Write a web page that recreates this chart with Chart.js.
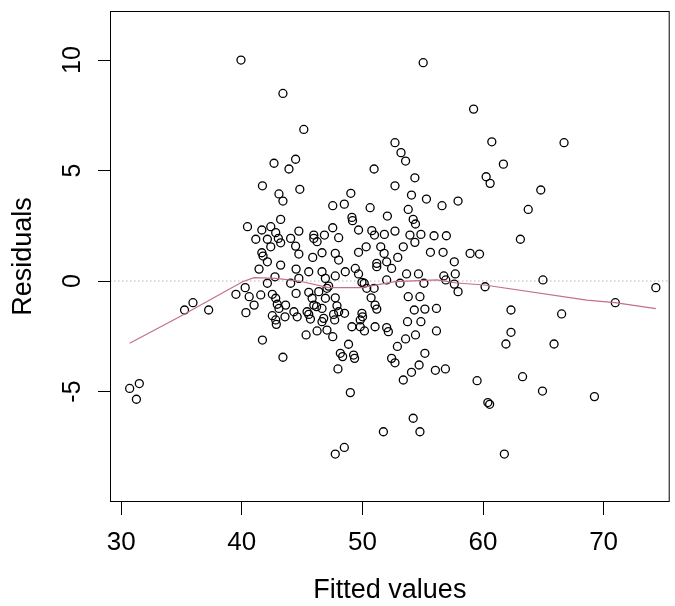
<!DOCTYPE html>
<html>
<head>
<meta charset="utf-8">
<script src="https://cdn.jsdelivr.net/npm/chart.js@4.4.0/dist/chart.umd.min.js"></script>
<style>
  body { margin: 0; background: #fff; }
</style>
</head>
<body>
<canvas id="myChart" width="675" height="606"></canvas>
<script>
// residuals vs fitted
const fittedValues = [
  30.70, 31.50, 31.26, 35.25, 35.95, 37.25, 39.51, 40.28, 40.61, 41.02,
  40.34, 41.57, 41.71, 43.41, 41.43, 42.12, 42.75, 42.53, 42.81, 42.94,
  43.08, 42.53, 42.81, 42.86, 43.58, 44.05, 44.32, 44.59, 44.50, 44.73,
  44.50, 43.22, 45.55, 45.55, 45.83, 45.97, 45.55, 45.69, 45.33, 46.24,
  46.38, 46.65, 46.79, 46.65, 46.93, 47.06, 46.93, 47.06, 45.14, 42.67,
  44.46, 43.91, 41.71, 43.08, 43.41, 44.81, 43.22, 40.47, 41.66, 42.40,
  42.81, 41.16, 42.12, 43.03, 43.22, 44.05, 44.73, 42.40, 44.46, 41.66,
  41.76, 42.12, 44.73, 45.97, 45.97, 46.24, 46.85, 45.88, 46.65, 39.93,
  55.04, 43.41, 52.70, 53.20, 53.58, 50.97, 54.35, 52.70, 49.04, 47.54,
  48.50, 50.64, 54.07, 55.31, 56.60, 52.07, 53.80, 49.13, 49.18, 54.21,
  54.40, 47.54, 48.03, 49.68, 50.78, 51.00, 51.82, 52.70, 53.94, 54.35,
  54.85, 55.94, 56.96, 47.75, 49.68, 50.31, 51.52, 51.80, 53.39, 55.64,
  56.69, 51.19, 52.93, 52.01, 52.42, 48.58, 49.41, 49.68, 53.66, 54.65,
  56.75, 57.70, 47.75, 47.20, 50.15, 50.36, 52.01, 53.12, 55.10, 56.91,
  53.80, 54.77, 57.93, 48.03, 51.19, 57.62, 58.93, 59.22, 60.73, 66.72,
  61.69, 60.26, 60.59, 64.79, 63.75, 59.71, 63.10, 64.97, 57.62, 57.93,
  60.17, 74.33, 70.97, 62.32, 66.52, 62.32, 61.90, 65.89, 56.88, 59.51,
  60.40, 60.55, 63.28, 64.93, 69.24, 61.77, 49.96, 50.97, 50.72, 51.05,
  51.19, 47.75, 47.89, 47.61, 47.70, 48.52, 47.54, 50.01, 49.82, 49.13,
  49.82, 50.17, 51.05, 52.01, 52.15, 48.85, 48.17, 48.36, 49.27, 49.35,
  47.97, 49.00, 54.30, 55.18, 56.14, 53.74, 54.85, 56.14, 54.40, 53.58,
  52.90, 55.18, 52.42, 52.70, 54.70, 54.07, 56.05, 53.39, 54.21, 54.77,
  47.75, 48.50, 51.74, 48.03, 49.96, 43.63, 45.41, 46.20, 46.65
];
const residuals = [
  -4.86, -4.64, -5.35, -1.31, -0.98, -1.31, -0.60, -0.30, -0.71, -1.09,
  -1.43, -0.63, -2.67, -3.45, 0.54, -0.10, 0.19, -0.60, -0.78, -1.05,
  -1.24, -1.57, -1.76, -1.96, -1.62, -0.10, -1.39, -1.62, -0.56, 0.12,
  0.54, 0.72, 0.42, -0.51, -0.78, -1.09, -1.51, -1.72, -2.44, -2.26,
  -0.48, -1.24, -1.69, 0.42, 0.12, -0.33, -0.78, -2.22, 6.86, 5.33,
  5.51, 5.07, 4.31, 3.94, 3.62, 4.15, 2.79, 2.46, 2.31, 2.46,
  2.19, 1.89, 1.89, 1.93, 1.73, 1.93, 2.26, 1.55, 1.58, 1.28,
  1.13, 0.87, 1.22, 2.08, 1.93, 1.78, 2.08, 1.07, 1.28, 10.00,
  9.88, 8.49, 6.26, 5.81, 5.43, 5.07, 4.67, 4.31, 3.97, 3.41,
  3.48, 3.32, 3.89, 3.71, 3.41, 2.94, 3.24, 2.88, 2.73, 2.79,
  2.58, 2.41, 1.96, 2.31, 2.28, 2.08, 2.11, 2.26, 2.08, 1.75,
  2.11, 2.05, 2.05, 1.25, 1.30, 1.55, 1.55, 1.25, 1.55, 1.30,
  1.30, 0.80, 1.07, 0.87, 0.57, 0.42, 0.57, 0.32, 0.32, 0.32,
  0.23, 0.32, 0.23, -0.23, -0.10, -0.33, 0.05, -0.10, -0.10, 0.05,
  -0.71, -0.71, 3.62, 0.95, 0.65, 0.87, 1.25, 7.78, 6.30, 6.26,
  5.29, 4.72, 4.42, 4.12, 3.24, 1.22, 1.89, 0.05, -0.14, -0.48,
  -0.26, -0.30, -0.98, -1.31, -1.49, -2.32, -2.85, -2.85, -3.98, -4.51,
  -5.50, -5.58, -4.33, -4.98, -5.23, -7.83, -0.06, -0.33, -0.76, -1.09,
  -1.27, -0.76, -1.12, -1.51, -1.76, -1.46, -2.52, -1.62, -1.76, -2.07,
  -2.07, -2.26, -2.07, -2.11, -2.29, -2.86, -3.27, -3.42, -3.35, -3.50,
  -3.98, -5.05, -1.31, -1.27, -1.24, -1.84, -1.84, -2.26, -2.44, -2.62,
  -2.96, -3.27, -3.50, -3.70, -3.80, -4.13, -4.04, -4.48, -6.21, -6.82,
  -7.83, -7.53, -6.82, -1.39, -1.46, -1.09, -1.39, -1.16, -1.84
];

// smoother through the residuals
const lowessX = [30.70, 34.84, 40.06, 41.02, 42.81, 44.73, 47.20, 49.93, 52.70, 56.17, 57.82, 60.12, 68.60, 70.95, 74.33];
const lowessY = [-2.82, -1.62, -0.03, 0.15, 0.12, 0.00, -0.30, -0.30, -0.03, 0.05, -0.09, -0.18, -0.86, -0.98, -1.25];

const xTicks = [30, 40, 50, 60, 70];
const yTicks = [-5, 0, 5, 10];
const xMin = 29.07, xMax = 75.48;
const yMin = -10.0, yMax = 12.22;

const FONT = '"Liberation Sans", Arial, sans-serif';

const points = fittedValues.map((x, i) => ({ x: x, y: residuals[i] }));
const smooth = lowessX.map((x, i) => ({ x: x, y: lowessY[i] }));

// box round the plot + R style tick labels (y ones rotated)
const frame = {
  id: 'frame',
  afterDraw(chart) {
    const { ctx, chartArea: a, scales: { x, y } } = chart;
    ctx.save();
    ctx.strokeStyle = '#000';
    ctx.lineWidth = 1;
    ctx.strokeRect(a.left + 0.5, a.top + 0.5, a.right - a.left - 1, a.bottom - a.top - 1);
    ctx.fillStyle = '#000';
    ctx.textAlign = 'center';
    ctx.textBaseline = 'alphabetic';
    ctx.font = '26px ' + FONT;
    xTicks.forEach(v => ctx.fillText(String(v), x.getPixelForValue(v), a.bottom + 48));
    ctx.font = '25px ' + FONT;
    yTicks.forEach(v => {
      ctx.save();
      ctx.translate(a.left - 30, y.getPixelForValue(v));
      ctx.rotate(-Math.PI / 2);
      ctx.fillText(String(v), 0, 0);
      ctx.restore();
    });
    ctx.restore();
  }
};

const ctx = document.getElementById('myChart').getContext('2d');
const myChart = new Chart(ctx, {
  type: 'scatter',
  data: {
    datasets: [
      {
        data: smooth,
        showLine: true,
        borderColor: '#c46f8a',
        borderWidth: 1.2,
        pointRadius: 0,
        order: 0
      },
      {
        data: points,
        showLine: false,
        pointStyle: 'circle',
        pointRadius: 4,
        pointBorderWidth: 1.3,
        borderColor: '#000',
        backgroundColor: 'rgba(0,0,0,0)',
        order: 1
      },
      {
        data: [{ x: xMin, y: 0 }, { x: xMax, y: 0 }],
        showLine: true,
        borderColor: '#b4b4b4',
        borderWidth: 1,
        borderDash: [1.5, 2.5],
        pointRadius: 0,
        order: 2
      }
    ]
  },
  options: {
    responsive: false,
    animation: false,
    layout: { padding: { top: 11, right: 2, left: 0, bottom: 0 } },
    plugins: { legend: { display: false }, tooltip: { enabled: false } },
    scales: {
      x: {
        type: 'linear',
        min: xMin,
        max: xMax,
        afterBuildTicks: s => { s.ticks = xTicks.map(v => ({ value: v })); },
        afterFit: s => { s.height = 104; },
        ticks: { display: false },
        grid: { drawOnChartArea: false, drawTicks: true, tickLength: 13, tickColor: '#000' },
        border: { display: false },
        title: {
          display: true,
          text: 'Fitted values',
          color: '#000',
          font: { family: FONT, size: 27, lineHeight: 1 },
          padding: { top: 0, bottom: 1.5 }
        }
      },
      y: {
        type: 'linear',
        min: yMin,
        max: yMax,
        afterBuildTicks: s => { s.ticks = yTicks.map(v => ({ value: v })); },
        afterFit: s => { s.width = 110; },
        ticks: { display: false },
        grid: { drawOnChartArea: false, drawTicks: true, tickLength: 12, tickColor: '#000' },
        border: { display: false },
        title: {
          display: true,
          text: 'Residuals',
          color: '#000',
          font: { family: FONT, size: 27, lineHeight: 1 },
          padding: { top: 10, bottom: 0 }
        }
      }
    }
  },
  plugins: [frame]
});
</script>
</body>
</html>
